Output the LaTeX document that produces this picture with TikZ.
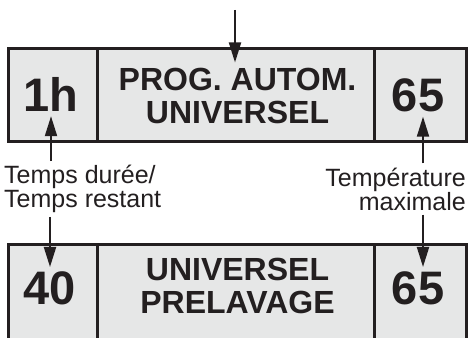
\documentclass[tikz,border=0pt]{standalone}
\usepackage{fontspec}
\setmainfont{Liberation Sans}
\usetikzlibrary{arrows.meta,positioning}
\definecolor{panelgray}{HTML}{E6E7E7}
\definecolor{inkblack}{HTML}{231F20}
\begin{document}
\begin{tikzpicture}[x=1pt, y=1pt, >={Stealth[length=20pt,width=12pt,inset=0pt]},
    cell/.style={draw=inkblack, line width=3pt, fill=panelgray, inner sep=0pt, minimum height=93pt},
    value/.style={text=inkblack, font=\fontsize{47}{47}\selectfont\bfseries, inner sep=4pt, anchor=base},
    title/.style={text=inkblack, font=\fontsize{32}{33}\selectfont\bfseries, align=center, inner sep=5pt},
    caption/.style={text=inkblack, font=\fontsize{25}{24}\selectfont, inner sep=4pt},
    pointer/.style={->, draw=inkblack, line width=2pt}]
  \clip (0,0) rectangle (470,337);
  % upper display
  \node[cell, minimum width=89pt] (timeA) at (53.25,241.5) {};
  \node[cell, minimum width=276.5pt] (progA) at (235.75,241.5) {};
  \node[cell, minimum width=92pt] (tempA) at (420,241.5) {};
  \node[value] (timeAtxt) at (51,225) {1h};
  \node[title] (progAtxt) at (237.5,241.5) {PROG. AUTOM.\\UNIVERSEL};
  \node[value] (tempAtxt) at (418,225) {65};
  % lower display
  \node[cell, minimum width=89pt, minimum height=96pt] (timeB) at (53.25,44.5) {};
  \node[cell, minimum width=276.5pt, minimum height=96pt] (progB) at (235.75,44.5) {};
  \node[cell, minimum width=92pt, minimum height=96pt] (tempB) at (420,44.5) {};
  \node[value] (timeBtxt) at (50,33) {40};
  \node[title] (progBtxt) at (237.5,51.5) {UNIVERSEL\\PRELAVAGE};
  \node[value] (tempBtxt) at (418,33) {65};
  % captions
  \node[caption, align=left, anchor=west] (durcap) at (0,148) {Temps durée/\\Temps restant};
  \node[caption, align=right, anchor=east] (tmpcap) at (470,148) {Température\\maximale};
  % pointers
  \coordinate (feed) at (235,327);
  \draw[pointer] (feed) -- (feed |- progAtxt.north);
  \draw[pointer] (timeAtxt.south |- durcap.north) -- (timeAtxt.south);
  \draw[pointer] ([xshift=5pt]tempAtxt.south |- tmpcap.north) -- ([xshift=5pt]tempAtxt.south);
  \draw[pointer] (timeBtxt.north |- durcap.south) -- (timeBtxt.north);
  \draw[pointer] ([xshift=5pt]tempBtxt.north |- tmpcap.south) -- ([xshift=5pt]tempBtxt.north);
\end{tikzpicture}
\end{document}
